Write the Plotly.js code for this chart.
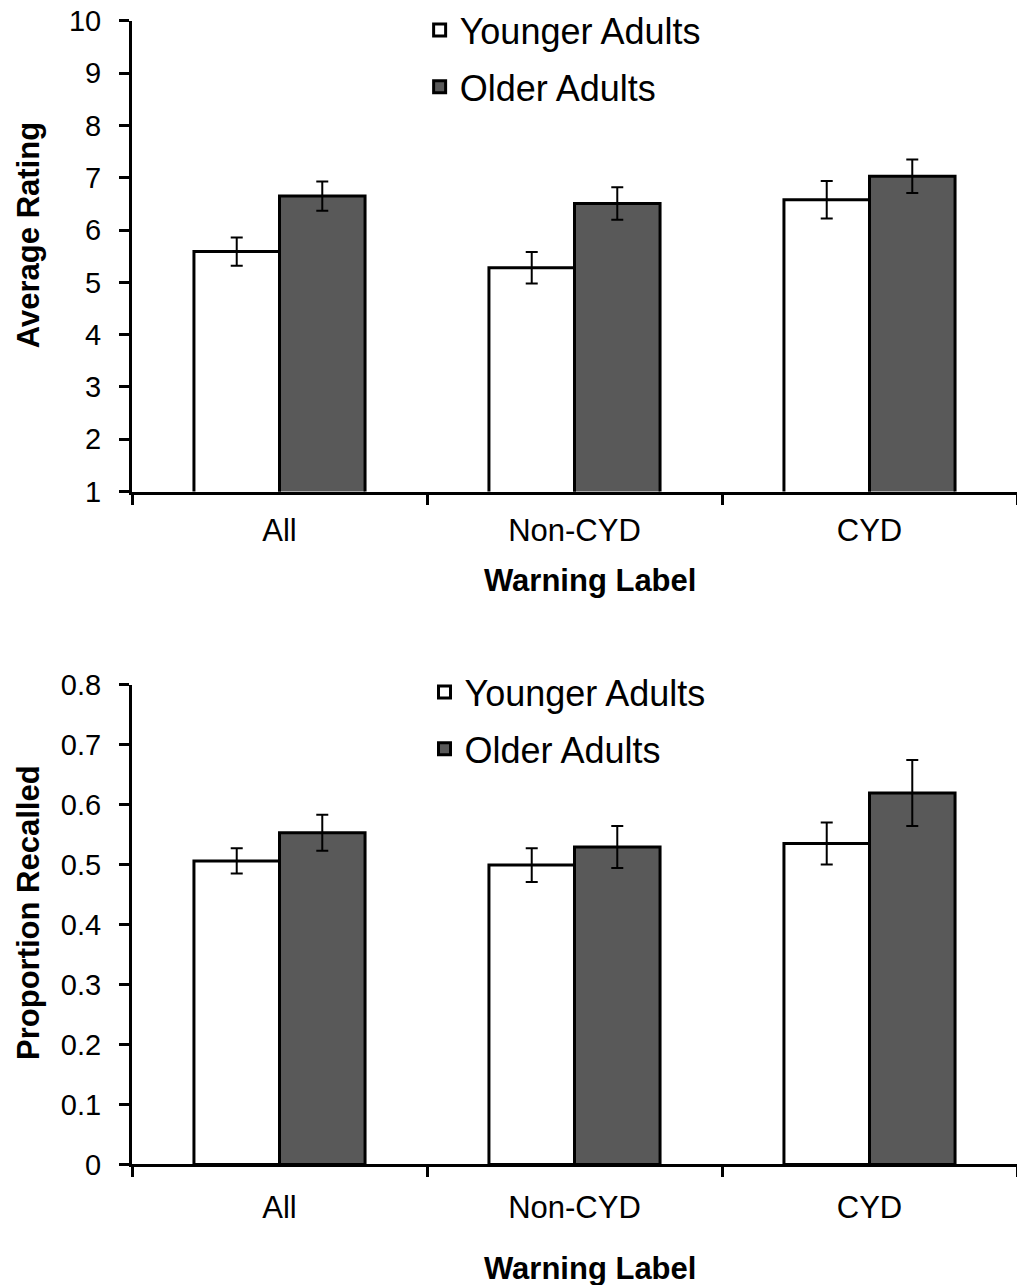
<!DOCTYPE html>
<html>
<head>
<meta charset="utf-8">
<script src="https://cdn.plot.ly/plotly-3.0.1.min.js"></script>
<style>html,body{margin:0;padding:0;background:#fff;}</style>
</head>
<body>
<div id="chart" style="width:1017px;height:1285px;"></div>
<script>
const categories = ["All", "Non-CYD", "CYD"];
const seriesNames = ["Younger Adults", "Older Adults"];

const ratingYounger = [5.59, 5.28, 6.58];
const ratingYoungerErr = [0.27, 0.30, 0.36];
const ratingOlder = [6.65, 6.51, 7.03];
const ratingOlderErr = [0.28, 0.31, 0.32];

const recallYounger = [0.506, 0.499, 0.535];
const recallYoungerErr = [0.021, 0.028, 0.035];
const recallOlder = [0.553, 0.529, 0.619];
const recallOlderErr = [0.030, 0.035, 0.055];

const FONT = "Liberation Sans, Arial, sans-serif";
const colors = ["#ffffff", "#595959"];

function bar(y, err, idx, xa, ya, legendName, grp) {
  return {
    type: "bar",
    x: categories,
    y: y,
    name: seriesNames[idx],
    xaxis: xa, yaxis: ya,
    legend: legendName,
    legendgroup: grp,
    marker: {color: colors[idx], line: {color: "#000", width: 3}},
    error_y: {type: "data", array: err, visible: true, color: "#000", thickness: 2, width: 6}
  };
}

const data = [
  bar(ratingYounger, ratingYoungerErr, 0, "x", "y", "legend", "a1"),
  bar(ratingOlder, ratingOlderErr, 1, "x", "y", "legend", "a2"),
  bar(recallYounger, recallYoungerErr, 0, "x2", "y2", "legend2", "b1"),
  bar(recallOlder, recallOlderErr, 1, "x2", "y2", "legend2", "b2")
];

const xCommon = {
  type: "category",
  range: [-0.5, 2.5],
  showline: true, linecolor: "#000", linewidth: 3,
  ticks: "outside", tickson: "boundaries", ticklen: 10, tickwidth: 3, tickcolor: "#000",
  tickfont: {family: FONT, size: 31, color: "#000"},
  showgrid: false, zeroline: false, fixedrange: true
};
const yCommon = {
  showline: true, linecolor: "#000", linewidth: 3,
  ticks: "outside", ticklen: 10, tickwidth: 3, tickcolor: "#000",
  tickfont: {family: FONT, size: 29, color: "#000"},
  ticklabelstandoff: 12,
  showgrid: false, zeroline: false, fixedrange: true
};

const legendCommon = {
  font: {family: FONT, size: 36, color: "#000"},
  bgcolor: "rgba(0,0,0,0)",
  xanchor: "left", yanchor: "top",
  traceorder: "grouped",
  tracegroupgap: 7
};

const layout = {
  width: 1017, height: 1285,
  margin: {l: 132, r: 0, t: 0, b: 0},
  paper_bgcolor: "#fff", plot_bgcolor: "#fff",
  font: {family: FONT, color: "#000"},
  barmode: "group",
  bargap: 0.42,
  bargroupgap: 0,
  xaxis: Object.assign({}, xCommon, {domain: [0, 1], anchor: "y", ticklabelstandoff: 9}),
  yaxis: Object.assign({}, yCommon, {domain: [0.6175, 0.9837], range: [1, 10], dtick: 1, anchor: "x"}),
  xaxis2: Object.assign({}, xCommon, {domain: [0, 1], anchor: "y2", ticklabelstandoff: 13}),
  yaxis2: Object.assign({}, yCommon, {domain: [0.0938, 0.4673], range: [0, 0.8], dtick: 0.1, anchor: "x2"}),
  showlegend: true,
  legend: Object.assign({}, legendCommon, {x: 0.325, y: 1.0}),
  legend2: Object.assign({}, legendCommon, {x: 0.3305, y: 0.4848}),
  annotations: [
    {text: "<b>Average Rating</b>", xref: "paper", yref: "paper", x: -0.1175, y: 0.817,
     xanchor: "center", yanchor: "middle",
     textangle: -90, showarrow: false, font: {family: FONT, size: 31, color: "#000"}},
    {text: "<b>Warning Label</b>", xref: "paper", yref: "paper", x: 0.5175, y: 0.5486,
     xanchor: "center", yanchor: "middle",
     showarrow: false, font: {family: FONT, size: 31, color: "#000"}},
    {text: "<b>Proportion Recalled</b>", xref: "paper", yref: "paper", x: -0.1164, y: 0.2903,
     xanchor: "center", yanchor: "middle",
     textangle: -90, showarrow: false, font: {family: FONT, size: 31, color: "#000"}},
    {text: "<b>Warning Label</b>", xref: "paper", yref: "paper", x: 0.5175, y: 0.0132,
     xanchor: "center", yanchor: "middle",
     showarrow: false, font: {family: FONT, size: 31, color: "#000"}}
  ]
};

Plotly.newPlot("chart", data, layout, {staticPlot: true, displayModeBar: false});
</script>
</body>
</html>
